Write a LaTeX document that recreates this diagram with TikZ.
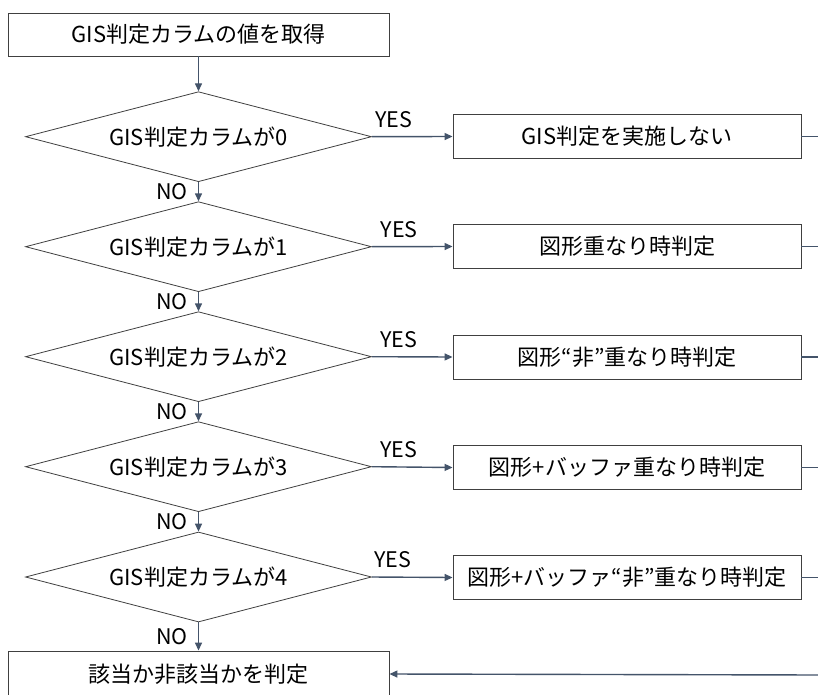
\documentclass[tikz,border=0pt]{standalone}
\usepackage{fontspec}
\setmainfont{Noto Sans CJK JP}
\usetikzlibrary{shapes.geometric,arrows.meta}
\definecolor{conncol}{RGB}{68,84,106}
\definecolor{boxcol}{RGB}{64,64,64}
\tikzset{
  boxnode/.style={draw=boxcol, line width=0.9pt, minimum width=381pt, minimum height=43pt, inner sep=0pt, font=\fontsize{22}{26}\selectfont},
  rbox/.style={draw=boxcol, line width=0.9pt, minimum width=348pt, minimum height=44pt, inner sep=0pt, font=\fontsize{22}{26}\selectfont},
  decision/.style={diamond, draw=boxcol, line width=0.8pt, minimum width=346pt, minimum height=90pt, shape aspect=3.85, inner sep=0pt, font=\fontsize{22}{26}\selectfont},
  conn/.style={draw=conncol, line width=1.4pt},
  arr/.style={conn, -{Triangle[length=8pt,width=7pt]}},
  lbl/.style={inner sep=0pt, font=\fontsize{21.5}{25}\selectfont},
}
\begin{document}
\begin{tikzpicture}[x=1pt,y=-1pt]
\useasboundingbox (0,0) rectangle (818,695);
\fill[white] (0,0) rectangle (818,695);
\clip (0,0) rectangle (818,695);

\node[boxnode] (start) at (198.5,34.5) {GIS判定カラムの値を取得};

\node[decision] (d0) at (198.5,136.7) {GIS判定カラムが0};
\node[decision] (d1) at (198.5,246.7) {GIS判定カラムが1};
\node[decision] (d2) at (198.5,356.7) {GIS判定カラムが2};
\node[decision] (d3) at (198.5,466.7) {GIS判定カラムが3};
\node[decision] (d4) at (198.5,577) {GIS判定カラムが4};

\node[rbox] (r0) at (627,136.5) {GIS判定を実施しない};
\node[rbox] (r1) at (627,246.5) {図形重なり時判定};
\node[rbox] (r2) at (627,357) {図形“非”重なり時判定};
\node[rbox] (r3) at (627,467.5) {図形+バッファ重なり時判定};
\node[rbox] (r4) at (627,577.5) {図形+バッファ“非”重なり時判定};

\node[boxnode, minimum height=46pt] (end) at (198.5,674) {該当か非該当かを判定};

\coordinate (e0) at (822,136.5);
\coordinate (e1) at (822,246.5);
\coordinate (e2) at (822,357);
\coordinate (e3) at (822,467.5);
\coordinate (e4) at (822,577.5);
\coordinate (eb) at (822,675);

\draw[arr] (start) -- (d0);
\draw[arr] (d0) -- node[lbl, midway, anchor=east, xshift=-10pt] {NO} (d1);
\draw[arr] (d1) -- node[lbl, midway, anchor=east, xshift=-10pt] {NO} (d2);
\draw[arr] (d2) -- node[lbl, midway, anchor=east, xshift=-10pt] {NO} (d3);
\draw[arr] (d3) -- node[lbl, midway, anchor=east, xshift=-10pt] {NO} (d4);
\draw[arr] (d4) -- node[lbl, midway, anchor=east, xshift=-10pt] {NO} (end);

\draw[arr] (d0.east) -- node[lbl, pos=0.27, anchor=base, yshift=9.5pt] {YES} (r0.west);
\draw[arr] (d1.east) -- node[lbl, pos=0.34, anchor=base, yshift=9.5pt] {YES} (r1.west);
\draw[arr] (d2.east) -- node[lbl, pos=0.33, anchor=base, yshift=9.5pt] {YES} (r2.west);
\draw[arr] (d3.east) -- node[lbl, pos=0.33, anchor=base, yshift=9.5pt] {YES} (r3.west);
\draw[arr] (d4.east) -- node[lbl, pos=0.26, anchor=base, yshift=9.5pt] {YES} (r4.west);

\draw[conn] (r0.east) -- (e0);
\draw[conn] (r1.east) -- (e1);
\draw[conn] (r2.east) -- (e2);
\draw[conn] (r3.east) -- (e3);
\draw[conn] (r4.east) -- (e4);
\draw[arr] (eb) -- (end.east);
\end{tikzpicture}
\end{document}
